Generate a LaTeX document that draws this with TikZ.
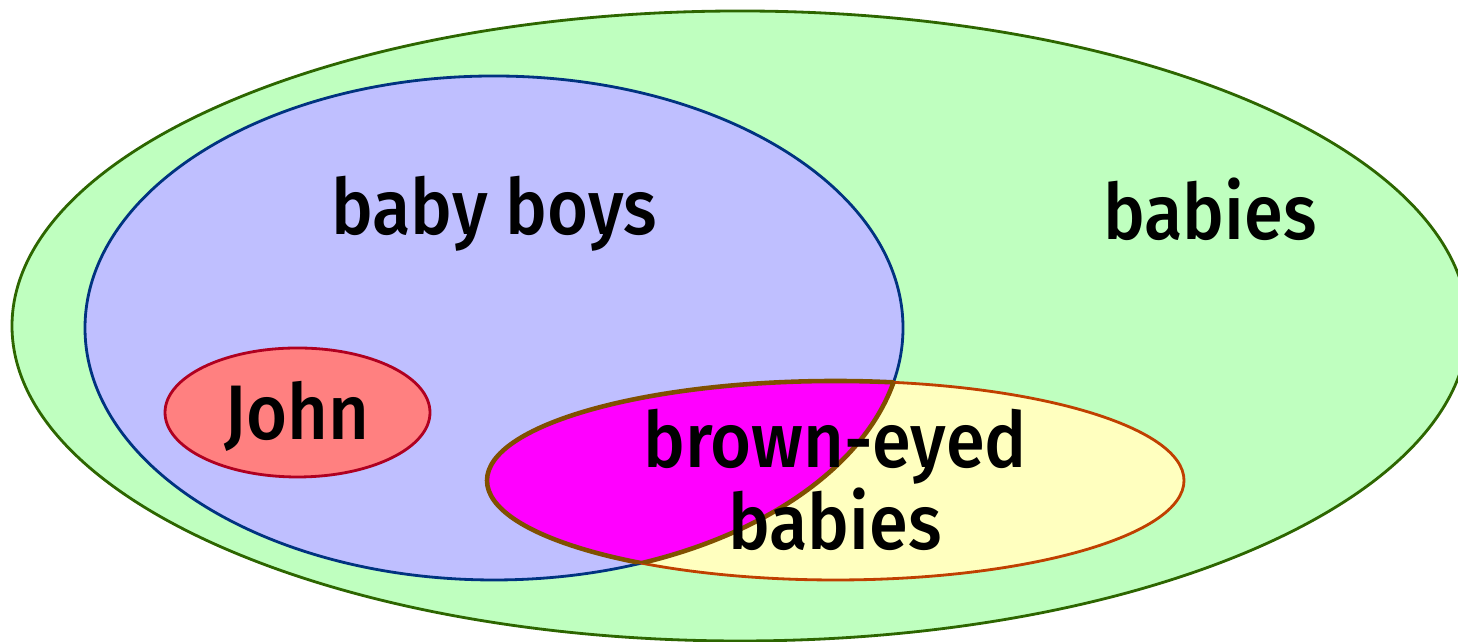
\documentclass[tikz,border=0pt]{standalone}
\usepackage{fontspec}
\newfontfamily\vennfont{Fira Sans Medium}[FakeStretch=0.91]
\usepackage{tikz}

\definecolor{babygreen}{HTML}{BFFFBF}
\definecolor{babyline}{HTML}{2D6600}
\definecolor{boyblue}{HTML}{BFBFFF}
\definecolor{boyline}{HTML}{003380}
\definecolor{johnred}{HTML}{FF8080}
\definecolor{johnline}{HTML}{B00020}
\definecolor{eyeyellow}{HTML}{FFFFBF}
\definecolor{eyeline}{HTML}{C04000}
\definecolor{bothfill}{HTML}{FF00FF}
\definecolor{bothline}{HTML}{805000}

\begin{document}
\begin{tikzpicture}[
    set/.style={line width=0.8pt},
    setlabel/.style={font=\vennfont\fontsize{22}{23.6}\selectfont, anchor=base, inner sep=0pt, align=center}
  ]
    \useasboundingbox (0,0) rectangle (14.58,6.42);
    \clip (0,0) rectangle (14.58,6.42);
    % the sets
    \draw[set, fill=babygreen, draw=babyline] (7.40,3.16) ellipse [x radius=7.28, y radius=3.15];
    \draw[set, fill=boyblue, draw=boyline] (4.94,3.14) ellipse [x radius=4.09, y radius=2.52];
    \draw[set, fill=johnred, draw=johnline] (2.975,2.295) ellipse [x radius=1.325, y radius=0.645];
    \draw[set, fill=eyeyellow, draw=eyeline] (8.355,1.615) ellipse [x radius=3.485, y radius=0.995];
    % brown-eyed baby boys
    \begin{scope}
      \clip (4.94,3.14) ellipse [x radius=4.09, y radius=2.52];
      \draw[set, line width=1.3pt, fill=bothfill, draw=bothline] (8.355,1.615) ellipse [x radius=3.485, y radius=0.995];
    \end{scope}
    \begin{scope}
      \clip (8.355,1.615) ellipse [x radius=3.485, y radius=0.995];
      \draw[set, line width=1.3pt, draw=bothline] (4.94,3.14) ellipse [x radius=4.09, y radius=2.52];
    \end{scope}
    % labels
    \node[setlabel] (boys) at (4.94,4.07) {baby boys};
    \node[setlabel] (babies) at (12.10,4.02) {babies};
    \node[setlabel] (john) at (2.97,2.02) {John};
    \node[setlabel] (browneyed) at (8.35,0.92) {brown-eyed\\babies};
  \end{tikzpicture}
\end{document}
